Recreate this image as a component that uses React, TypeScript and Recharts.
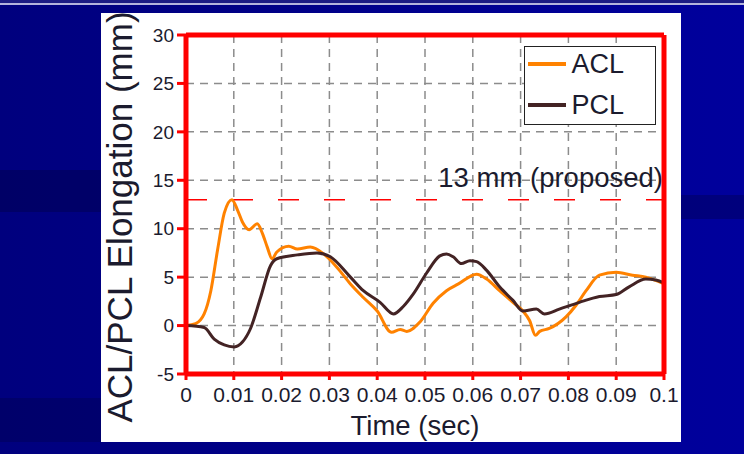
import {
  CartesianGrid,
  Label,
  Legend,
  Line,
  LineChart,
  ReferenceLine,
  XAxis,
  YAxis,
} from 'recharts'

// ACL / PCL elongation over time (mm vs sec)
const aclT = [
  0, 0.002, 0.0038, 0.0052, 0.0066, 0.008, 0.0096, 0.0108, 0.0118, 0.0132, 0.0149, 0.016,
  0.017, 0.018, 0.019, 0.0215, 0.0233, 0.026, 0.0288, 0.0316, 0.0344, 0.0371, 0.04, 0.043,
  0.0448, 0.0462, 0.049, 0.0517, 0.0545, 0.057, 0.0608, 0.0629, 0.0656, 0.0684, 0.0705,
  0.0719, 0.0731, 0.074, 0.076, 0.0795, 0.0816, 0.0837, 0.0865, 0.09, 0.0934, 0.0962, 0.1,
]
const aclV = [
  0, 0.2, 1.2, 3.6, 7.8, 11.6, 13.0, 11.9, 10.7, 9.9, 10.5, 9.5,
  8.1, 6.9, 7.6, 8.2, 7.9, 8.1, 7.4, 6.0, 4.3, 2.9, 1.5, -0.7,
  -0.4, -0.6, 0.4, 2.3, 3.6, 4.3, 5.3, 4.8, 3.6, 2.4, 1.5,
  0.5, -1.0, -0.6, -0.3, 0.9, 2.1, 3.6, 5.2, 5.5, 5.2, 5.0, 4.3,
]

const pclT = [
  0, 0.0038, 0.0059, 0.008, 0.0101, 0.0118, 0.0135, 0.0156, 0.0177, 0.019, 0.0233, 0.0274,
  0.0302, 0.0344, 0.0371, 0.0406, 0.0434, 0.0455, 0.0476, 0.0503, 0.0531, 0.0545, 0.0559,
  0.0576, 0.0594, 0.0608, 0.0629, 0.0656, 0.0684, 0.0705, 0.0733, 0.075, 0.0781, 0.0823,
  0.0865, 0.09, 0.0927, 0.0962, 0.0983, 0.1,
]
const pclV = [
  0, -0.2, -1.4, -2.0, -2.2, -1.7, -0.3, 2.9, 6.2, 6.9, 7.3, 7.5,
  7.1, 5.0, 3.6, 2.4, 1.2, 2.0, 3.3, 5.4, 7.2, 7.4, 7.1,
  6.4, 6.7, 6.6, 5.7, 4.0, 2.6, 1.5, 1.7, 1.2, 1.7, 2.4,
  3.0, 3.2, 4.0, 4.8, 4.7, 4.4,
]

const xTicks = [0, 0.01, 0.02, 0.03, 0.04, 0.05, 0.06, 0.07, 0.08, 0.09, 0.1]
const xTickLabels = ['0', '0.01', '0.02', '0.03', '0.04', '0.05', '0.06', '0.07', '0.08', '0.09', '0.1']
const yTicks = [-5, 0, 5, 10, 15, 20, 25, 30]

const limitValue = 13
const limitLabel = '13 mm (proposed)'

const aclData = aclT.map((t, i) => ({ t, v: aclV[i] }))
const pclData = pclT.map((t, i) => ({ t, v: pclV[i] }))

const FONT = '"Liberation Sans", Arial, sans-serif'
const TEXT = '#1b1b2e'
const RED = '#ff0000'

function LegendBox(props: any) {
  const items = props.payload ?? []
  return (
    <div
      style={{
        position: 'relative',
        width: 132,
        height: 79,
        boxSizing: 'border-box',
        border: '1.5px solid #222',
        background: '#fff',
        fontFamily: FONT,
        fontSize: 27,
        color: TEXT,
      }}
    >
      {items.map((p: any, i: number) => (
        <div
          key={p.value}
          style={{
            position: 'absolute',
            left: 2.5,
            top: 2 + i * 41,
            height: 30,
            display: 'flex',
            alignItems: 'center',
          }}
        >
          <span style={{ display: 'inline-block', width: 38, height: 4, background: p.color, marginRight: 6 }} />
          <span>{p.value}</span>
        </div>
      ))}
    </div>
  )
}

export default function App() {
  return (
    <div
      style={{
        position: 'absolute',
        left: 0,
        top: 0,
        width: 744,
        height: 454,
        overflow: 'hidden',
        background: 'linear-gradient(to right, #00007e 0%, #000088 40%, #000096 75%, #00009c 100%)',
      }}
    >
      <div style={{ position: 'absolute', left: 0, top: 0, width: 744, height: 3, background: '#1c1c84' }} />
      <div style={{ position: 'absolute', left: 0, top: 3, width: 744, height: 2, background: '#b4b4dc' }} />
      <div style={{ position: 'absolute', left: 0, top: 170, width: 110, height: 42, background: 'rgba(0,0,30,0.25)' }} />
      <div style={{ position: 'absolute', left: 0, top: 398, width: 110, height: 44, background: 'rgba(0,0,30,0.2)' }} />
      <div style={{ position: 'absolute', left: 681, top: 195, width: 63, height: 24, background: 'rgba(0,0,30,0.25)' }} />
      <div style={{ position: 'absolute', left: 101, top: 13, width: 580, height: 429, background: '#fff' }} />

      <div style={{ position: 'absolute', left: 0, top: 0 }}>
        <LineChart width={744} height={454} margin={{ top: 35, right: 80, bottom: 0, left: 0 }}>
          <CartesianGrid stroke="#8c8c8c" strokeWidth={1.5} strokeDasharray="8 6" />
          <XAxis
            dataKey="t"
            type="number"
            domain={[0, 0.1]}
            ticks={xTicks}
            tickFormatter={(_v: number, i: number) => xTickLabels[i]}
            interval={0}
            height={80}
            axisLine={{ stroke: RED, strokeWidth: 5 }}
            tickLine={{ stroke: RED, strokeWidth: 3 }}
            tickSize={6}
            tickMargin={7}
            tick={{ fill: TEXT, fontSize: 21, fontFamily: FONT }}
          >
            <Label
              value="Time (sec)"
              content={() => (
                <text x={415} y={435} textAnchor="middle" fontSize={27.5} fontFamily={FONT} fill={TEXT}>
                  Time (sec)
                </text>
              )}
            />
          </XAxis>
          <YAxis
            type="number"
            domain={[-5, 30]}
            ticks={yTicks}
            interval={0}
            width={186}
            axisLine={{ stroke: RED, strokeWidth: 5 }}
            tickLine={{ stroke: RED, strokeWidth: 3 }}
            tickSize={9}
            tickMargin={3}
            tick={{ fill: TEXT, fontSize: 19, fontFamily: FONT }}
          >
            <Label
              value="ACL/PCL Elongation (mm)"
              content={() => (
                <text
                  x={132}
                  y={217}
                  transform="rotate(-90 132 217)"
                  textAnchor="middle"
                  fontSize={35}
                  fontFamily={FONT}
                  fill={TEXT}
                >
                  ACL/PCL Elongation (mm)
                </text>
              )}
            />
          </YAxis>
          <ReferenceLine
            y={limitValue}
            stroke={RED}
            strokeWidth={1.5}
            strokeDasharray="21 25"
            label={(p: any) => (
              <text
                x={p.viewBox.x + p.viewBox.width - 1}
                y={p.viewBox.y - 13}
                textAnchor="end"
                fontSize={27.5}
                fontFamily={FONT}
                fill={TEXT}
              >
                {limitLabel}
              </text>
            )}
          />
          <Line
            data={aclData}
            dataKey="v"
            name="ACL"
            type="monotone"
            stroke="#ff8200"
            strokeWidth={3}
            dot={false}
            isAnimationActive={false}
          />
          <Line
            data={pclData}
            dataKey="v"
            name="PCL"
            type="monotone"
            stroke="#432324"
            strokeWidth={3}
            dot={false}
            isAnimationActive={false}
          />
          <ReferenceLine y={30} stroke={RED} strokeWidth={5} />
          <ReferenceLine x={0.1} stroke={RED} strokeWidth={5} />
          <Legend
            layout="vertical"
            align="center"
            verticalAlign="middle"
            content={<LegendBox />}
            wrapperStyle={{ left: 524, top: 46, width: 132, height: 79 }}
          />
        </LineChart>
      </div>
    </div>
  )
}
